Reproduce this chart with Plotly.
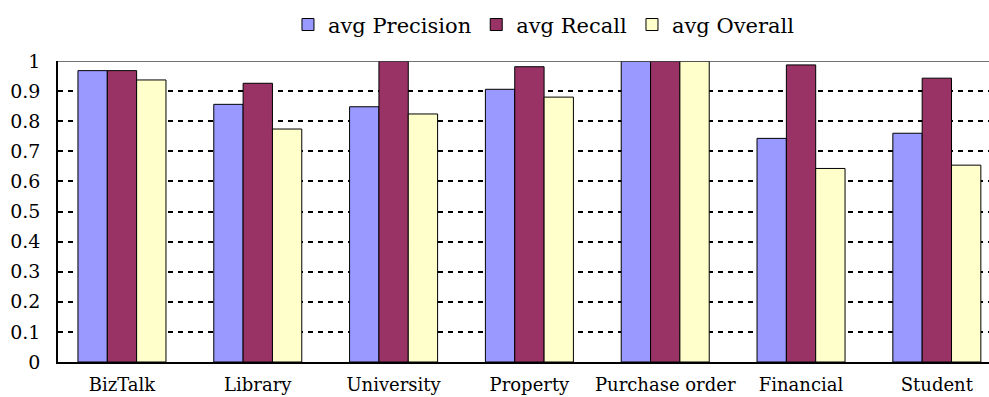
import plotly.graph_objects as go

categories = ["BizTalk", "Library", "University", "Property", "Purchase order", "Financial", "Student"]
precision = [0.968, 0.856, 0.848, 0.906, 1.0, 0.743, 0.760]
recall = [0.968, 0.926, 1.0, 0.981, 1.0, 0.987, 0.943]
overall = [0.937, 0.774, 0.824, 0.880, 1.0, 0.643, 0.654]
series_names = ["avg Precision", "avg Recall", "avg Overall"]
colors = ["#9999FF", "#993366", "#FFFFCC"]

FONT = "DejaVu Serif"

fig = go.Figure()
for name, vals, col in zip(series_names, [precision, recall, overall], colors):
    fig.add_trace(go.Bar(
        x=categories, y=vals, name=name,
        marker=dict(color=col, line=dict(color="black", width=1)),
    ))

fig.update_layout(
    width=989, height=397,
    margin=dict(l=58, r=0, t=61, b=35),
    paper_bgcolor="white", plot_bgcolor="white",
    barmode="group", bargap=0.352, bargroupgap=0,
    font=dict(family=FONT, color="black", size=18),
    legend=dict(
        orientation="h", x=0.522, xanchor="center", y=1.12, yanchor="middle",
        font=dict(family=FONT, size=21, color="black"),
        itemwidth=30, tracegroupgap=0, bgcolor="rgba(0,0,0,0)",
    ),
    xaxis=dict(
        range=[-0.471, 6.384], showline=True, linecolor="black", linewidth=1.5,
        ticks="outside", ticklen=6, tickcolor="rgba(0,0,0,0)",
        tickfont=dict(family=FONT, size=18, color="black"), showgrid=False,
    ),
    yaxis=dict(
        range=[0, 1], dtick=0.1, tick0=0, showline=True, linecolor="black", linewidth=1.5,
        showgrid=True, gridcolor="black", gridwidth=1.5, griddash="5px,5px",
        zeroline=False, ticks="outside", ticklen=12, tickcolor="rgba(0,0,0,0)",
        tickfont=dict(family=FONT, size=19, color="black"),
    ),
)
fig.add_shape(type="line", xref="paper", yref="y", x0=0, x1=1, y0=1, y1=1,
              line=dict(color="#444444", width=1.5))

fig.write_html("out.html")
